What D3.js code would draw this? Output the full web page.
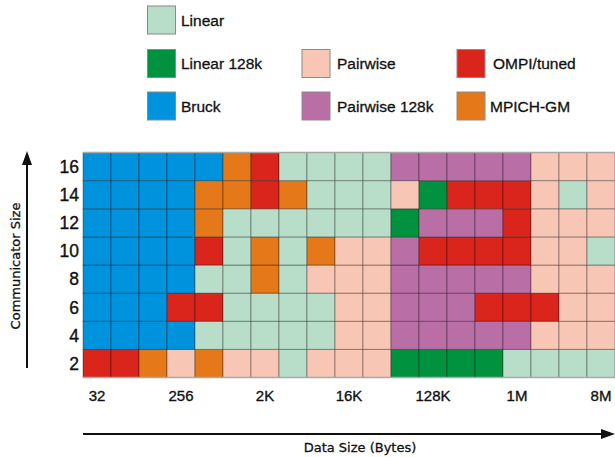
<!DOCTYPE html>
<html>
<head>
<meta charset="utf-8">
<script src="https://cdn.jsdelivr.net/npm/d3@7"></script>
<style>
  body { margin: 0; background: #fff; }
  svg { display: block; }
  .tick text { font-family: "Liberation Sans", Arial, sans-serif; fill: #111; stroke: #111; stroke-width: 0.35px; }
  .label { fill: #111; stroke: #111; stroke-width: 0.3px; }
</style>
</head>
<body>
<div id="chart"></div>
<script>
const dataSizes = ["32", "64", "128", "256", "512", "1K", "2K", "4K", "8K", "16K",
  "32K", "64K", "128K", "256K", "512K", "1M", "2M", "4M", "8M"];
const commSizes = [2, 4, 6, 8, 10, 12, 14, 16];
const xTickLabels = ["32", "256", "2K", "16K", "128K", "1M", "8M"];

const algorithms = ["Linear", "Linear 128k", "Bruck", "Pairwise", "Pairwise 128k", "OMPI/tuned", "MPICH-GM"];
const algoColors = ["#b8dec9", "#00923f", "#0093dd", "#f7c6b5", "#b96fa6", "#da251d", "#e57818"];

// best algorithm per data size, one array per communicator size
// L=Linear G=Linear 128k B=Bruck P=Pairwise U=Pairwise 128k R=OMPI/tuned O=MPICH-GM
const best2  = ["R","R","O","P","O","P","P","L","P","P","P","G","G","G","G","L","L","L","L"];
const best4  = ["B","B","B","B","L","L","L","L","L","P","P","U","U","U","U","U","P","P","P"];
const best6  = ["B","B","B","R","R","L","L","L","L","P","P","U","U","U","R","R","R","P","P"];
const best8  = ["B","B","B","B","L","L","O","L","P","P","P","U","U","U","U","U","P","P","P"];
const best10 = ["B","B","B","B","R","L","O","L","O","P","P","U","R","R","R","R","P","P","L"];
const best12 = ["B","B","B","B","O","L","L","L","L","L","L","G","U","U","U","R","P","P","P"];
const best14 = ["B","B","B","B","O","O","R","O","L","L","L","P","G","R","R","R","P","L","P"];
const best16 = ["B","B","B","B","B","O","R","L","L","L","L","U","U","U","U","U","P","P","P"];
const bestRows = [best2, best4, best6, best8, best10, best12, best14, best16];

const codes = ["L", "G", "B", "P", "U", "R", "O"];

const width = 615, height = 457;
const margin = { left: 83, right: 0, top: 152.5, bottom: 79.5 };

const svg = d3.select("#chart").append("svg")
  .attr("width", width)
  .attr("height", height);

const color = d3.scaleOrdinal().domain(codes).range(algoColors);

const x = d3.scaleBand().domain(dataSizes).range([margin.left, width - margin.right]);
const y = d3.scaleBand().domain(commSizes.slice().reverse()).range([margin.top, height - margin.bottom]);

const cells = [];
commSizes.forEach((c, i) => {
  bestRows[i].forEach((code, j) => cells.push({ comm: c, size: dataSizes[j], code }));
});

svg.append("g")
  .selectAll("rect")
  .data(cells)
  .enter()
  .append("rect")
  .attr("x", d => x(d.size))
  .attr("y", d => y(d.comm))
  .attr("width", x.bandwidth())
  .attr("height", y.bandwidth())
  .attr("fill", d => color(d.code))
  .attr("stroke", "rgba(0,0,0,0.33)")
  .attr("stroke-width", 1);

// grey frame top and bottom
svg.append("line")
  .attr("x1", margin.left).attr("x2", width)
  .attr("y1", margin.top).attr("y2", margin.top)
  .attr("stroke", "#a8a8a8").attr("stroke-width", 1.5);
svg.append("line")
  .attr("x1", margin.left).attr("x2", width)
  .attr("y1", height - margin.bottom).attr("y2", height - margin.bottom)
  .attr("stroke", "#a8a8a8").attr("stroke-width", 1.5);

// axes
const yAxis = svg.append("g")
  .attr("transform", `translate(${margin.left - 4}, 0)`)
  .call(d3.axisLeft(y).tickSize(0).tickPadding(0));
yAxis.select(".domain").remove();
yAxis.selectAll("text").attr("font-size", 17.5).attr("dy", "0.36em");

const xAxis = svg.append("g")
  .attr("transform", `translate(0, ${height - margin.bottom})`)
  .call(d3.axisBottom(x).tickValues(xTickLabels).tickSize(0).tickPadding(0));
xAxis.select(".domain").remove();
xAxis.selectAll("text").attr("font-size", 15).attr("y", 0).attr("dy", 23);

// arrows
svg.append("line")
  .attr("x1", 27).attr("x2", 27).attr("y1", 368).attr("y2", 162)
  .attr("stroke", "#111").attr("stroke-width", 2);
svg.append("path")
  .attr("d", "M27,151 L22,165 L32,165 Z")
  .attr("fill", "#111");

svg.append("line")
  .attr("x1", 83).attr("x2", 604).attr("y1", 434).attr("y2", 434)
  .attr("stroke", "#111").attr("stroke-width", 2);
svg.append("path")
  .attr("d", "M615,434 L601,429 L601,439 Z")
  .attr("fill", "#111");

svg.append("text")
  .attr("class", "label")
  .attr("transform", "translate(20, 266) rotate(-90)")
  .attr("text-anchor", "middle")
  .attr("font-family", "DejaVu Sans, Verdana, sans-serif")
  .attr("font-size", 13)
  .text("Communicator Size");

svg.append("text")
  .attr("class", "label")
  .attr("x", 360).attr("y", 452)
  .attr("text-anchor", "middle")
  .attr("font-family", "DejaVu Sans, Verdana, sans-serif")
  .attr("font-size", 13)
  .text("Data Size (Bytes)");

// legend
const legendPos = [
  { x: 147.5, y: 6, tx: 181 },
  { x: 147.5, y: 49.5, tx: 181 },
  { x: 147.5, y: 92, tx: 181 },
  { x: 302, y: 49.5, tx: 337 },
  { x: 302, y: 92, tx: 337 },
  { x: 457, y: 49.5, tx: 493 },
  { x: 457, y: 92, tx: 490 },
];

const legend = svg.append("g")
  .selectAll("g")
  .data(algorithms)
  .enter()
  .append("g");

legend.append("rect")
  .attr("x", (d, i) => legendPos[i].x)
  .attr("y", (d, i) => legendPos[i].y)
  .attr("width", 28)
  .attr("height", 28)
  .attr("fill", (d, i) => algoColors[i])
  .attr("stroke", "#8a8a8a")
  .attr("stroke-width", 1);

legend.append("text")
  .attr("class", "label")
  .attr("x", (d, i) => legendPos[i].tx)
  .attr("y", (d, i) => legendPos[i].y + 14)
  .attr("dy", "0.36em")
  .attr("font-family", "Liberation Sans, Arial, sans-serif")
  .attr("font-size", 15.5)
  .text(d => d);
</script>
</body>
</html>
